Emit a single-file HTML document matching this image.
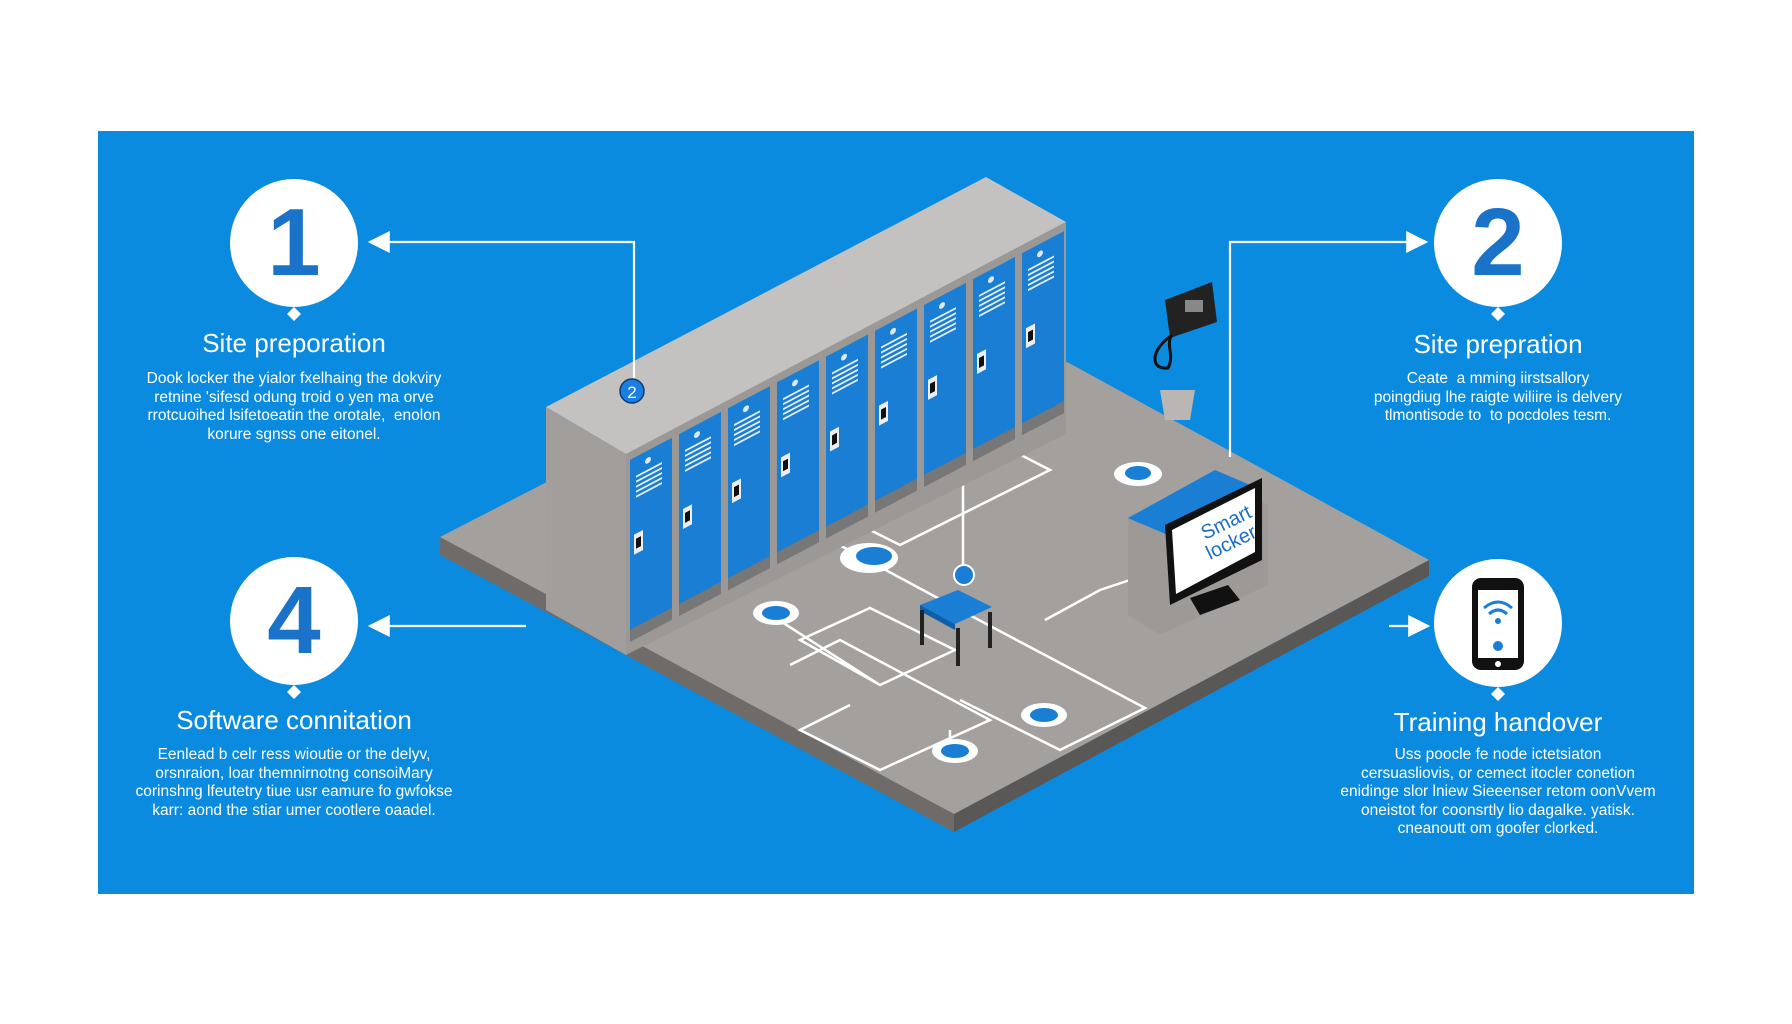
<!DOCTYPE html>
<html><head><meta charset="utf-8"><style>
html,body{margin:0;padding:0;background:#fff;}
body{width:1792px;height:1024px;position:relative;overflow:hidden;font-family:"Liberation Sans",sans-serif;}
.panel{position:absolute;left:98px;top:131px;width:1596px;height:763px;background:#0a8be0;}
.t{position:absolute;color:#fff;text-align:center;width:400px;}
.h{font-size:26px;}
.b{font-size:15.5px;line-height:18.5px;}
</style></head><body>
<div class="panel"></div>
<svg width="1792" height="1024" style="position:absolute;left:0;top:0">
<defs><marker id="ar" markerWidth="10" markerHeight="10" refX="9" refY="5" orient="auto"><path d="M0,0 L10,5 L0,10 z" fill="#fff"/></marker></defs>
<!-- floor -->
<polygon points="440,537 954,814 954,832 440,555" fill="#6e6b69"/>
<polygon points="954,814 1429,560 1429,576 954,832" fill="#5a5856"/>
<polygon points="440,537 900,300 1069,363 1429,560 954,814" fill="#a3a09e"/>
<!-- floor lines -->
<g stroke="#fff" stroke-width="2.5" fill="none">
<polyline points="1015,452 1050,470 900,545 870,530"/>
<polyline points="830,540 960,610 1145,708 1060,750 960,700"/>
<polyline points="760,608 880,685 955,650 870,608 800,640 880,685"/>
<polyline points="790,665 840,640 990,720 880,770 800,730 850,705"/>
<polyline points="1045,620 1100,590 1130,580"/>
<line x1="963" y1="450" x2="963" y2="570"/>
<line x1="950" y1="730" x2="950" y2="745"/>
</g>
<!-- locker -->
<polygon points="546,407 986,177 1066,222 626,454" fill="#c4c2c0"/>
<polygon points="546,407 626,454 626,655 546,610" fill="#a19e9c"/>
<polygon points="626,454 1066,222 1066,434 626,655" fill="#9b9896"/>
<g transform="matrix(1,-0.527,0,1,626,454)">
<g id="d">
<rect x="4" y="8" width="42" height="172" fill="#1a7fd4"/>
<rect x="4" y="178" width="42" height="12" fill="#777"/>
<g stroke="#e6eef8" stroke-width="2"><line x1="10" y1="28" x2="36" y2="28"/><line x1="10" y1="33" x2="36" y2="33"/><line x1="10" y1="38" x2="36" y2="38"/><line x1="10" y1="43" x2="36" y2="43"/><line x1="10" y1="48" x2="36" y2="48"/></g>
<circle cx="22" cy="18" r="3" fill="#dfe8f4"/>
<rect x="8" y="85" width="9" height="20" fill="#eee"/><rect x="10" y="90" width="5" height="10" fill="#111"/>
</g>
<use href="#d" x="49"/><use href="#d" x="98"/><use href="#d" x="147"/><use href="#d" x="196"/><use href="#d" x="245"/><use href="#d" x="294"/><use href="#d" x="343"/><use href="#d" x="392"/>
</g>
<!-- connectors -->
<g stroke="#fff" stroke-width="2.2" fill="none">
<polyline points="634,382 634,242 370,242" marker-end="url(#ar)"/>
<polyline points="1230,457 1230,242 1426,242" marker-end="url(#ar)"/>
<line x1="526" y1="626" x2="370" y2="626" marker-end="url(#ar)"/>
<line x1="1389" y1="626" x2="1428" y2="626" marker-end="url(#ar)"/>
</g>
<circle cx="632" cy="391" r="12" fill="#1a7fe0" stroke="#0a3a70" stroke-width="1.5"/>
<text x="632" y="398" font-size="17" fill="#fff" text-anchor="middle" font-family="Liberation Sans">2</text>
<!-- floor icons -->
<g><ellipse cx="869" cy="558" rx="29" ry="15" fill="#fff"/><ellipse cx="874" cy="556" rx="18" ry="9" fill="#1a7fd4"/>
<ellipse cx="776" cy="613" rx="23" ry="12" fill="#fff"/><ellipse cx="776" cy="613" rx="14" ry="7" fill="#1a7fd4"/>
<ellipse cx="1138" cy="474" rx="24" ry="12" fill="#fff"/><ellipse cx="1138" cy="473" rx="13" ry="7" fill="#1a7fd4"/>
<ellipse cx="1044" cy="715" rx="23" ry="12" fill="#fff"/><ellipse cx="1044" cy="715" rx="14" ry="7" fill="#1a7fd4"/>
<ellipse cx="955" cy="751" rx="23" ry="12" fill="#fff"/><ellipse cx="955" cy="751" rx="14" ry="7" fill="#1a7fd4"/>
<circle cx="964" cy="575" r="10" fill="#1a7fd4" stroke="#fff" stroke-width="2"/></g>
<!-- table -->
<polygon points="920,605 958,590 992,607 955,624" fill="#1a7fd4"/>
<polygon points="920,605 955,624 955,630 920,611" fill="#0e5fa8"/>
<g stroke="#222" stroke-width="4"><line x1="922" y1="610" x2="922" y2="645"/><line x1="958" y1="628" x2="958" y2="666"/><line x1="990" y1="612" x2="990" y2="648"/></g>
<!-- wall device -->
<polygon points="1165,300 1212,282 1217,322 1170,338" fill="#222"/>
<rect x="1185" y="300" width="18" height="12" fill="#888"/>
<path d="M1172,335 C1150,350 1150,370 1168,368 C1175,355 1165,345 1172,335" stroke="#111" stroke-width="3" fill="none"/>
<polygon points="1160,390 1195,390 1190,420 1165,420" fill="#b9b6b4"/>
<!-- kiosk -->
<polygon points="1128,518 1215,475 1268,505 1268,585 1160,635 1128,615" fill="#9c9997"/>
<polygon points="1128,518 1215,470 1262,490 1170,536" fill="#1a7fd4"/>
<polygon points="1165,525 1262,478 1262,560 1170,605" fill="#111"/>
<polygon points="1172,530 1255,488 1255,552 1176,594" fill="#fff"/>
<text x="1205" y="540" font-size="20" fill="#1a6fc4" transform="rotate(-26 1205 540)" font-family="Liberation Sans">Smart</text>
<text x="1210" y="560" font-size="20" fill="#1a6fc4" transform="rotate(-26 1210 560)" font-family="Liberation Sans">locker</text>
<polygon points="1190,598 1228,585 1240,600 1200,615" fill="#111"/>
<!-- circles -->
<g fill="#fff"><circle cx="294" cy="243" r="64"/><circle cx="1498" cy="243" r="64"/><circle cx="294" cy="621" r="64"/><circle cx="1498" cy="623" r="64"/>
<polygon points="294,307 301,314 294,321 287,314"/><polygon points="1498,307 1505,314 1498,321 1491,314"/><polygon points="294,685 301,692 294,699 287,692"/><polygon points="1498,687 1505,694 1498,701 1491,694"/></g>
<g font-family="Liberation Sans" font-weight="bold" fill="#1a73c8" text-anchor="middle">
<text x="294" y="275" font-size="96">1</text><text x="1498" y="275" font-size="96">2</text><text x="294" y="653" font-size="96">4</text></g>
<rect x="1472" y="578" width="52" height="92" rx="9" fill="#111"/>
<rect x="1478" y="590" width="40" height="68" fill="#fff"/>
<circle cx="1498" cy="664" r="3" fill="#fff"/>
<g stroke="#1a7fd4" stroke-width="3" fill="none"><path d="M1484,608 Q1498,596 1512,608"/><path d="M1489,614 Q1498,606 1507,614"/></g>
<circle cx="1498" cy="621" r="3" fill="#1a7fd4"/><circle cx="1498" cy="646" r="5" fill="#1a7fd4"/>
</svg>
<div class="t h" style="left:94px;top:328px">Site preporation</div>
<div class="t b" style="left:94px;top:370px">Dook locker the yialor fxelhaing the dokviry<br>retnine 'sifesd odung troid o yen ma orve<br>rrotcuoihed lsifetoeatin the orotale,&nbsp; enolon<br>korure sgnss one eitonel.</div>
<div class="t h" style="left:1298px;top:329px">Site prepration</div>
<div class="t b" style="left:1298px;top:370px">Ceate&nbsp; a mming iirstsallory<br>poingdiug lhe raigte wiliire is delvery<br>tlmontisode to&nbsp; to pocdoles tesm.</div>
<div class="t h" style="left:94px;top:705px">Software connitation</div>
<div class="t b" style="left:94px;top:746px">Eenlead b celr ress wioutie or the delyv,<br>orsnraion, loar themnirnotng consoiMary<br>corinshng lfeutetry tiue usr eamure fo gwfokse<br>karr: aond the stiar umer cootlere oaadel.</div>
<div class="t h" style="left:1298px;top:707px">Training handover</div>
<div class="t b" style="left:1298px;top:746px">Uss poocle fe node ictetsiaton<br>cersuasliovis, or cemect itocler conetion<br>enidinge slor lniew Sieeenser retom oonVvem<br>oneistot for coonsrtly lio dagalke. yatisk.<br>cneanoutt om goofer clorked.</div>
</body></html>
